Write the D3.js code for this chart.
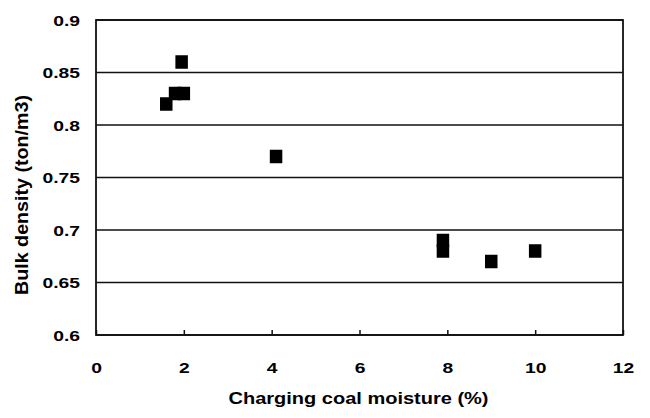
<!DOCTYPE html>
<html>
<head>
<meta charset="utf-8">
<script src="https://cdn.jsdelivr.net/npm/d3@7/dist/d3.min.js"></script>
<style>
  html, body { margin: 0; padding: 0; background: #fff; }
  svg { display: block; }
  text { font-family: "Liberation Sans", Arial, sans-serif; font-weight: bold; fill: #000; }
</style>
</head>
<body>
<svg id="chart" width="650" height="418"></svg>
<script>
// Charging coal moisture (%) vs. bulk density (ton/m3)
const moisture = [1.6, 1.8, 2.0, 1.95, 4.1, 7.9, 7.9, 9.0, 10.0];
const density  = [0.82, 0.83, 0.83, 0.86, 0.77, 0.69, 0.68, 0.67, 0.68];

const xTicks = [0, 2, 4, 6, 8, 10, 12];
const yTicks = [0.6, 0.65, 0.7, 0.75, 0.8, 0.85, 0.9];

const xTitle = "Charging coal moisture (%)";
const yTitle = "Bulk density (ton/m3)";

const svg = d3.select("#chart");
const plot = { left: 96, right: 623, top: 20, bottom: 335 };

const x = d3.scaleLinear().domain([0, 12]).range([plot.left, plot.right]);
const y = d3.scaleLinear().domain([0.6, 0.9]).range([plot.bottom, plot.top]);

// horizontal gridlines
svg.append("g")
  .selectAll("line")
  .data(yTicks)
  .join("line")
  .attr("x1", plot.left).attr("x2", plot.right)
  .attr("y1", d => y(d)).attr("y2", d => y(d))
  .attr("stroke", "#111").attr("stroke-width", 1.5);

// y axis labels (glyphs drawn wide)
const yAxis = svg.append("g")
  .attr("transform", `translate(${plot.left},0)`)
  .call(d3.axisLeft(y).tickValues(yTicks).tickSize(0).tickPadding(0)
    .tickFormat(d => String(+d.toFixed(2))));
yAxis.select(".domain").remove();
yAxis.selectAll(".tick text")
  .attr("x", 0).attr("dy", "0.35em")
  .attr("transform", "translate(-16,0) scale(1.33,1)")
  .style("font-size", "14.5px");

// x axis with short inward ticks
const xAxis = svg.append("g")
  .attr("transform", `translate(0,${plot.bottom})`)
  .call(d3.axisBottom(x).tickValues(xTicks).tickSizeInner(-5).tickSizeOuter(0).tickFormat(d3.format("d")));
xAxis.select(".domain").remove();
xAxis.selectAll(".tick line").attr("stroke", "#111").attr("stroke-width", 1.5);
xAxis.selectAll(".tick text")
  .attr("y", 0).attr("dy", 0)
  .attr("transform", "translate(0,37.5) scale(1.33,1)")
  .style("font-size", "14.5px");

// plot frame
svg.append("rect")
  .attr("x", plot.left).attr("y", plot.top)
  .attr("width", plot.right - plot.left).attr("height", plot.bottom - plot.top)
  .attr("fill", "none").attr("stroke", "#111").attr("stroke-width", 1.8);

// square markers
const mw = 12.5, mh = 13.5;
svg.append("g")
  .selectAll("rect")
  .data(moisture.map((m, i) => ({ m, d: density[i] })))
  .join("rect")
  .attr("x", p => x(p.m) - mw / 2)
  .attr("y", p => y(p.d) - mh / 2)
  .attr("width", mw).attr("height", mh)
  .attr("fill", "#000");

// axis titles
svg.append("text")
  .attr("text-anchor", "middle")
  .attr("transform", `translate(${(plot.left + plot.right) / 2 - 1},404) scale(1.25,1)`)
  .style("font-size", "16px")
  .text(xTitle);

svg.append("text")
  .attr("text-anchor", "middle")
  .attr("transform", "translate(27.5,195) rotate(-90) scale(1.23,1.18)")
  .style("font-size", "16px")
  .text(yTitle);
</script>
</body>
</html>
